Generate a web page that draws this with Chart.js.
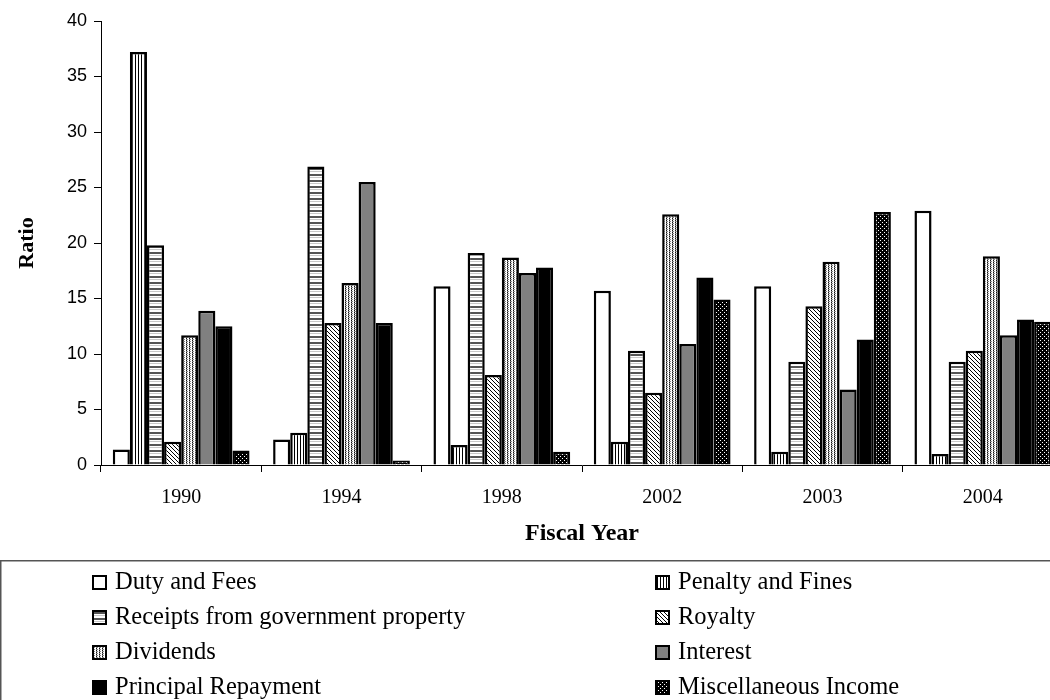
<!DOCTYPE html>
<html>
<head>
<meta charset="utf-8">
<title>Ratio by Fiscal Year</title>
<script src="https://cdn.jsdelivr.net/npm/chart.js@4.4.1/dist/chart.umd.min.js"></script>
<style>
  html, body { margin: 0; padding: 0; background: #fff; overflow: hidden; }
  #wrap { width: 1064px; height: 700px; }
</style>
</head>
<body>
<div id="wrap"><canvas id="chart" width="1064" height="700"></canvas></div>
<script>
// fiscal years on the x axis
const years = ['1990', '1994', '1998', '2002', '2003', '2004'];

// ratio per revenue source, one value per year
const dutyFees      = [1.4, 2.3, 16.1, 15.7, 16.1, 22.9];
const penaltyFines  = [37.2, 2.9, 1.8, 2.1, 1.2, 1.0];
const govProperty   = [19.8, 26.9, 19.1, 10.3, 9.3, 9.3];
const royalty       = [2.1, 12.8, 8.1, 6.5, 14.3, 10.3];
const dividends     = [11.7, 16.4, 18.7, 22.6, 18.3, 18.8];
const interest      = [13.9, 25.5, 17.3, 10.9, 6.8, 11.7];
const principalRep  = [12.5, 12.8, 17.8, 16.9, 11.3, 13.1];
const miscIncome    = [1.3, 0.4, 1.2, 14.9, 22.8, 12.9];

const yTicks = { min: 0, max: 40, step: 5 };

const canvas = document.getElementById('chart');
const ctx = canvas.getContext('2d');

// small repeating tiles for the monochrome hatch fills
function tile(w, h, bg, paint) {
  const c = document.createElement('canvas');
  c.width = w; c.height = h;
  const g = c.getContext('2d');
  g.fillStyle = bg;
  g.fillRect(0, 0, w, h);
  paint(g);
  return ctx.createPattern(c, 'repeat');
}

const px = (g, color, pts) => {
  g.fillStyle = color;
  pts.forEach(([x, y]) => g.fillRect(x, y, 1, 1));
};

const fills = {
  duty: '#ffffff',
  penalty: tile(3, 3, '#ffffff', g => { g.fillStyle = '#000'; g.fillRect(0, 0, 1, 3); }),
  property: tile(6, 6, '#ffffff', g => {
    g.fillStyle = '#555'; g.fillRect(0, 0, 6, 2);
    g.fillStyle = '#c8c8c8'; g.fillRect(0, 3, 6, 1);
  }),
  royalty: tile(4, 4, '#ffffff', g => px(g, '#000', [[0, 0], [1, 1], [2, 2], [3, 3]])),
  dividends: tile(3, 2, '#ffffff', g => {
    px(g, '#111', [[0, 0]]);
    px(g, '#888', [[1, 1], [0, 1]]);
  }),
  interest: '#808080',
  principal: '#000000',
  misc: tile(4, 4, '#000000', g => px(g, '#fff', [[0, 0], [2, 2]]))
};

function series(label, data, fill) {
  return {
    label: label,
    data: data,
    backgroundColor: fill,
    borderColor: '#000',
    borderWidth: 2.5,
    categoryPercentage: 0.853,
    barPercentage: 1.0
  };
}

// two-column boxed legend under the axis title
const boxLegend = {
  id: 'boxLegend',
  afterDraw(chart) {
    const c = chart.ctx;
    c.save();
    c.strokeStyle = '#555';
    c.lineWidth = 1.5;
    c.strokeRect(0.75, 560.75, chart.width + 20, 200);
    c.font = '24.5px "Liberation Serif", "Times New Roman", serif';
    c.textBaseline = 'middle';
    chart.data.datasets.forEach((ds, i) => {
      const x = (i % 2) ? 655 : 92;
      const y = 582 + Math.floor(i / 2) * 35;
      c.fillStyle = ds.backgroundColor;
      c.fillRect(x, y - 7, 15, 15);
      c.strokeStyle = '#000';
      c.lineWidth = 2;
      c.strokeRect(x + 1, y - 6, 13, 13);
      c.fillStyle = '#000';
      c.fillText(ds.label, x + 23, y + 1);
    });
    c.restore();
  }
};

new Chart(ctx, {
  type: 'bar',
  data: {
    labels: years,
    datasets: [
      series('Duty and Fees', dutyFees, fills.duty),
      series('Penalty and Fines', penaltyFines, fills.penalty),
      series('Receipts from government property', govProperty, fills.property),
      series('Royalty', royalty, fills.royalty),
      series('Dividends', dividends, fills.dividends),
      series('Interest', interest, fills.interest),
      series('Principal Repayment', principalRep, fills.principal),
      series('Miscellaneous Income', miscIncome, fills.misc)
    ]
  },
  options: {
    responsive: false,
    animation: false,
    layout: { padding: { top: 21, left: 0, right: 1, bottom: 152 } },
    plugins: {
      legend: { display: false },
      tooltip: { enabled: false }
    },
    scales: {
      x: {
        afterFit: s => { s.height = 83; },
        grid: { drawOnChartArea: false, color: '#000', tickLength: 7, offset: true },
        border: { color: '#000', width: 1 },
        ticks: {
          color: '#000',
          padding: 14,
          font: { family: '"Liberation Serif", "Times New Roman", serif', size: 20 }
        },
        title: {
          display: true,
          text: 'Fiscal Year',
          color: '#000',
          padding: { top: 0, bottom: 0 },
          font: { family: '"Liberation Serif", "Times New Roman", serif', size: 24, weight: 'bold' }
        }
      },
      y: {
        min: yTicks.min,
        max: yTicks.max,
        afterFit: s => { s.width = 101; },
        grid: { drawOnChartArea: false, color: '#000', tickLength: 7 },
        border: { color: '#000', width: 1 },
        ticks: {
          stepSize: yTicks.step,
          color: '#000',
          padding: 7,
          font: { family: '"Liberation Sans", Arial, sans-serif', size: 18 }
        },
        title: {
          display: true,
          text: 'Ratio',
          color: '#000',
          padding: { top: 14, bottom: 0 },
          font: { family: '"Liberation Serif", "Times New Roman", serif', size: 22, weight: 'bold' }
        }
      }
    }
  },
  plugins: [boxLegend]
});
</script>
</body>
</html>
